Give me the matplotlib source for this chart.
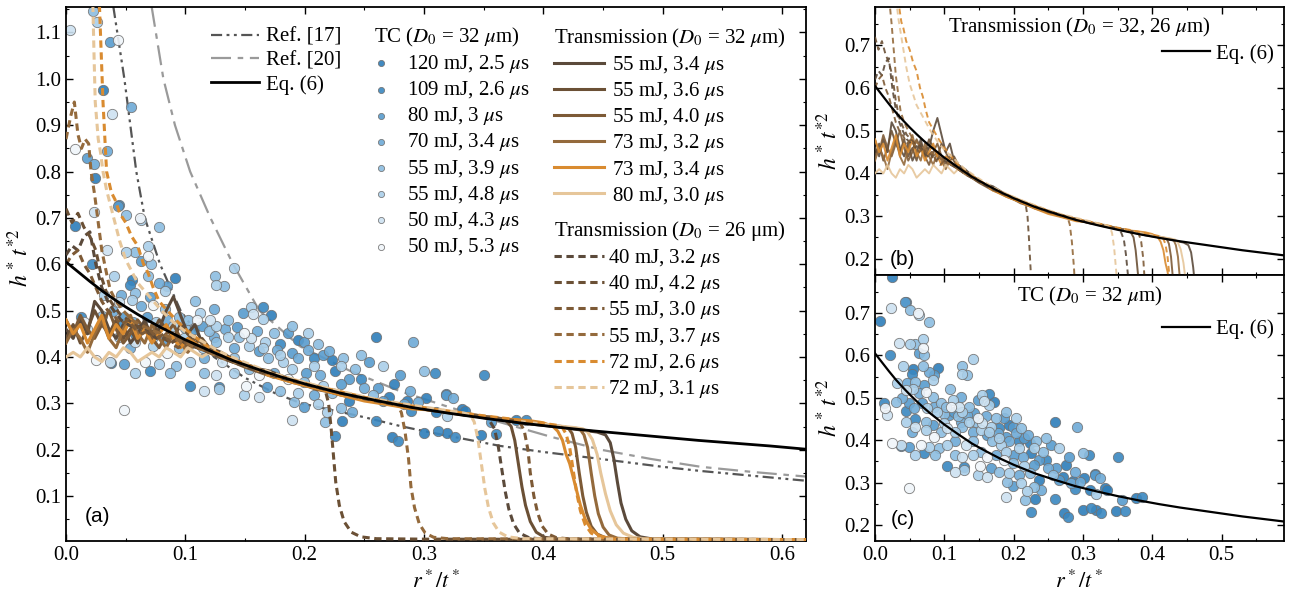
import matplotlib
matplotlib.use('Agg')
import matplotlib.pyplot as plt
from matplotlib.ticker import MultipleLocator, FormatStrFormatter

plt.rcParams['font.family'] = ['Liberation Serif', 'DejaVu Serif']
plt.rcParams['mathtext.fontset'] = 'stix'
plt.rcParams['font.size'] = 15

# ---------------- data ----------------
EQ6_X = [0, .01, .02, .03, .04, .05, .06, .07, .08, .09, .10, .12, .14, .16, .18, .20, .23, .26, .29, .32,
         .35, .38, .41, .44, .47, .50, .53, .56, .59, .62]
EQ6_Y = [.605, .584, .563, .543, .525, .508, .492, .477, .463, .45, .437, .414, .392, .374, .357, .342, .322,
         .306, .291, .279, .268, .258, .249, .241, .234, .227, .220, .214, .208, .201]

REF17_X = [.0397, .0489, .0589, .066, .0788, .096, .124, .15, .175, .197, .25, .28, .30, .364, .40, .448, .50, .532, .62]
REF17_Y = [1.155, 1.0, .80, .70, .60, .50, .40, .355, .322, .30, .27, .251, .24, .208, .195, .18, .163, .154, .133]

REF20_X = [.0718, .0816, .0913, .104, .121, .140, .162, .196, .238, .28, .322, .364, .406, .448, .49, .532, .575, .62]
REF20_Y = [1.155, 1.0, .90, .80, .70, .60, .50, .423, .37, .326, .291, .259, .228, .20, .18, .163, .152, .142]

# TC (D0 = 32 um) scatter data, (r*/t*, h* t*^2)
TC_120_25 = [(.0246, .786), (.055, .567), (.091, .571), (.172, .49), (.194, .436), (.26, .444), (.223, .393),
             (.038, .386), (.225, .369), (.275, .342), (.302, .311), (.332, .287), (.237, .306), (.231, .262),
             (.273, .227), (.30, .236), (.319, .236), (.348, .232), (.377, .263), (.31, .282), (.031, .977),
             (.0077, .682), (.334, .283), (.286, .304), (.271, .314)]
TC_109_26 = [(.022, .60), (.054, .556), (.165, .508), (.045, .469), (.179, .428), (.058, .45), (.208, .397),
             (.07, .369), (.247, .353), (.309, .365), (.35, .361), (.104, .338), (.225, .23), (.26, .262),
             (.278, .218), (.312, .241), (.326, .227), (.36, .234), (.385, .265), (.289, .284), (.0126, .487),
             (.044, .727), (.318, .32), (.128, .336)]
TC_80_30 = [(.0369, 1.079), (.018, .83), (.0436, .726), (.063, .607), (.085, .554), (.07, .53), (.148, .495),
            (.049, .487), (.068, .487), (.107, .46), (.143, .465), (.186, .452), (.083, .436), (.162, .412),
            (.189, .408), (.215, .404), (.049, .385), (.201, .365), (.237, .353), (.261, .334), (.318, .318),
            (.168, .335), (.266, .306), (.356, .259), (.199, .292), (.114, .467), (.199, .432), (.23, .342),
            (.254, .389), (.28, .361)]
TC_70_34 = [(.0341, .845), (.0237, .816), (.0545, .94), (.078, .56), (.046, .534), (.063, .511), (.039, .499),
            (.056, .475), (.085, .479), (.133, .46), (.16, .456), (.291, .432), (.141, .42), (.177, .416),
            (.203, .416), (.194, .397), (.174, .365), (.213, .361), (.25, .334), (.288, .326), (.324, .311),
            (.208, .318), (.283, .298), (.24, .282), (.124, .444), (.22, .412), (.116, .397), (.054, .42),
            (.124, .503), (.295, .302)]
TC_55_39 = [(.0229, 1.147), (.050, .707), (.078, .680), (.058, .627), (.071, .601), (.125, .574), (.132, .554),
            (.069, .574), (.058, .538), (.108, .520), (.083, .503), (.030, .489), (.095, .487), (.100, .463),
            (.120, .456), (.174, .452), (.073, .444), (.095, .420), (.126, .432), (.232, .397), (.169, .397),
            (.092, .381), (.116, .365), (.153, .373), (.300, .369), (.179, .326), (.223, .322), (.191, .302),
            (.217, .259), (.230, .290), (.102, .479), (.145, .444), (.211, .428), (.242, .373), (.199, .345),
            (.141, .397), (.087, .365), (.136, .479), (.189, .467), (.247, .405), (.257, .318)]
TC_55_48 = [(.0263, 1.123), (.063, .696), (.050, .627), (.069, .640), (.141, .592), (.126, .556), (.040, .575),
            (.032, .534), (.083, .542), (.055, .522), (.155, .507), (.075, .475), (.090, .467), (.112, .495),
            (.136, .444), (.167, .432), (.073, .424), (.115, .420), (.153, .424), (.182, .389), (.058, .365),
            (.104, .389), (.141, .365), (.189, .373), (.128, .330), (.194, .322), (.149, .318), (.211, .298),
            (.319, .272), (.219, .281), (.126, .467), (.165, .42), (.179, .405), (.23, .381), (.208, .381),
            (.215, .338), (.078, .385), (.044, .444), (.099, .44), (.165, .483), (.203, .452), (.266, .381)]
TC_50_43 = [(.0034, 1.105), (.0384, .925), (.0237, .713), (.034, .630), (.044, .519), (.157, .493),
            (.0174, .460), (.121, .479), (.058, .432), (.104, .428), (.037, .389), (.126, .361), (.116, .326),
            (.162, .314), (.189, .265), (.155, .44), (.131, .389)]
TC_50_53 = [(.0436, 1.084), (.0075, .848), (.062, .700), (.069, .618), (.073, .513), (.015, .475), (.110, .479),
            (.149, .452), (.085, .408), (.025, .393), (.066, .389), (.162, .361), (.151, .338), (.049, .286),
            (.186, .353)]

TC_SERIES = [TC_120_25, TC_109_26, TC_80_30, TC_70_34, TC_55_39, TC_55_48, TC_50_43, TC_50_53]
TC_LABELS = ['120 mJ, 2.5 $\\mu$s', '109 mJ, 2.6 $\\mu$s', '80 mJ, 3 $\\mu$s', '70 mJ, 3.4 $\\mu$s',
             '55 mJ, 3.9 $\\mu$s', '55 mJ, 4.8 $\\mu$s', '50 mJ, 4.3 $\\mu$s', '50 mJ, 5.3 $\\mu$s']
TC_COLORS = ['#2d7db9', '#3a87c0', '#589bcd', '#6eaad6', '#8cbde0', '#aacfe9', '#cde2f1', '#f0f5fa']

# Transmission (D0 = 32 um)
TR32_55_34 = [(0, .46), (.006, .44), (.012, .48), (.018, .45), (.024, .52), (.030, .50), (.036, .46), (.042, .44),
              (.048, .47), (.054, .43), (.060, .45), (.066, .48), (.072, .44), (.078, .46), (.084, .50), (.090, .53),
              (.096, .49), (.102, .45), (.108, .47), (.114, .43), (.120, .42), (.13, .41), (.15, .38), (.17, .37),
              (.19, .35), (.21, .335), (.23, .32), (.25, .31), (.27, .30), (.29, .29), (.31, .285), (.33, .278),
              (.35, .27), (.37, .262), (.39, .255), (.41, .25), (.43, .243), (.445, .238), (.452, .232),
              (.456, .215), (.459, .18), (.462, .13), (.465, .085), (.469, .05), (.474, .025), (.481, .012),
              (.492, .007), (.62, .006)]
TR32_55_36 = [(0, .44), (.006, .47), (.012, .43), (.018, .46), (.024, .50), (.030, .47), (.036, .45), (.042, .48),
              (.048, .44), (.054, .46), (.060, .43), (.066, .47), (.072, .45), (.078, .48), (.084, .46), (.090, .44),
              (.096, .47), (.102, .45), (.108, .43), (.114, .44), (.120, .42), (.13, .405), (.15, .385), (.17, .362),
              (.19, .345), (.21, .333), (.23, .318), (.25, .308), (.27, .298), (.29, .292), (.31, .283), (.33, .279),
              (.35, .272), (.362, .268), (.369, .262), (.373, .25), (.376, .22), (.379, .17), (.382, .12),
              (.385, .08), (.389, .045), (.394, .022), (.401, .011), (.412, .007), (.62, .006)]
TR32_55_40 = [(0, .48), (.006, .45), (.012, .49), (.018, .46), (.024, .44), (.030, .47), (.036, .50), (.042, .46),
              (.048, .43), (.054, .45), (.060, .48), (.066, .46), (.072, .44), (.078, .42), (.084, .45), (.090, .47),
              (.096, .44), (.102, .42), (.108, .44), (.114, .43), (.120, .41), (.13, .40), (.15, .378), (.17, .36),
              (.19, .348), (.21, .33), (.23, .32), (.25, .307), (.27, .302), (.29, .29), (.31, .284), (.33, .276),
              (.35, .27), (.37, .263), (.39, .256), (.41, .252), (.418, .249), (.421, .246), (.424, .235),
              (.427, .205), (.430, .15), (.433, .10), (.436, .065), (.440, .035), (.445, .018), (.452, .01),
              (.465, .007), (.62, .006)]
TR32_73_32 = [(0, .43), (.006, .46), (.012, .44), (.018, .41), (.024, .45), (.030, .48), (.036, .44), (.042, .42),
              (.048, .46), (.054, .49), (.060, .45), (.066, .43), (.072, .47), (.078, .44), (.084, .42), (.090, .45),
              (.096, .43), (.102, .41), (.108, .43), (.114, .42), (.120, .41), (.13, .398), (.15, .38), (.17, .366),
              (.19, .35), (.21, .334), (.23, .323), (.25, .31), (.27, .30), (.29, .293), (.31, .285), (.33, .277),
              (.35, .27), (.37, .262), (.39, .257), (.41, .25), (.428, .246), (.431, .243), (.434, .232),
              (.437, .205), (.440, .15), (.443, .10), (.446, .062), (.450, .033), (.455, .016), (.462, .009),
              (.475, .007), (.62, .006)]
TR32_73_34 = [(0, .48), (.006, .45), (.012, .47), (.018, .43), (.024, .46), (.030, .49), (.036, .44), (.042, .47),
              (.048, .45), (.054, .48), (.060, .44), (.066, .46), (.072, .43), (.078, .45), (.084, .47), (.090, .44),
              (.096, .42), (.102, .44), (.108, .43), (.114, .42), (.120, .41), (.13, .40), (.15, .385), (.17, .36),
              (.19, .345), (.21, .332), (.23, .318), (.25, .305), (.27, .297), (.29, .288), (.31, .285), (.33, .279),
              (.35, .271), (.37, .266), (.39, .262), (.40, .258), (.408, .25), (.412, .24), (.416, .22),
              (.419, .19), (.422, .17), (.425, .14), (.428, .11), (.431, .08), (.435, .05), (.44, .028),
              (.447, .014), (.455, .009), (.47, .007), (.62, .006)]
TR32_80_30 = [(0, .40), (.006, .41), (.012, .40), (.018, .42), (.024, .40), (.030, .39), (.036, .41), (.042, .40),
              (.048, .42), (.054, .41), (.060, .39), (.066, .40), (.072, .41), (.078, .40), (.084, .42), (.090, .41),
              (.096, .40), (.102, .42), (.108, .41), (.114, .40), (.120, .41), (.13, .40), (.15, .382), (.17, .365),
              (.19, .352), (.21, .338), (.23, .325), (.25, .313), (.27, .303), (.29, .294), (.31, .286), (.33, .28),
              (.35, .272), (.37, .264), (.39, .258), (.41, .252), (.425, .248), (.433, .245), (.437, .238),
              (.441, .222), (.445, .19), (.448, .15), (.452, .105), (.456, .068), (.461, .038), (.467, .02),
              (.475, .011), (.487, .007), (.62, .006)]

# Transmission (D0 = 26 um)
TR26_40_32 = [(0, .62), (.005, .64), (.01, .63), (.015, .66), (.02, .67), (.025, .60), (.03, .55), (.035, .52),
              (.04, .50), (.046, .48), (.052, .47), (.058, .46), (.064, .47), (.07, .45), (.076, .44), (.082, .45),
              (.088, .43), (.094, .44), (.10, .43), (.11, .42), (.12, .41), (.13, .40), (.15, .38), (.17, .362),
              (.19, .348), (.21, .335), (.23, .322), (.25, .31), (.27, .30), (.29, .292), (.31, .285), (.33, .278),
              (.345, .272), (.352, .268), (.355, .262), (.359, .245), (.362, .21), (.365, .16), (.368, .11),
              (.371, .072), (.375, .04), (.380, .02), (.388, .01), (.40, .007), (.62, .006)]
TR26_40_42 = [(0, .72), (.005, .69), (.01, .71), (.015, .68), (.02, .66), (.025, .63), (.03, .57), (.035, .53),
              (.04, .51), (.046, .49), (.052, .48), (.058, .47), (.064, .46), (.07, .45), (.076, .46), (.082, .44),
              (.088, .43), (.094, .44), (.10, .43), (.11, .42), (.12, .41), (.13, .398), (.15, .38), (.17, .365),
              (.19, .35), (.205, .338), (.212, .334), (.217, .33), (.22, .30), (.222, .25), (.224, .19),
              (.226, .13), (.229, .08), (.233, .045), (.239, .022), (.247, .012), (.26, .008), (.30, .007),
              (.62, .006)]
TR26_55_30 = [(0, .60), (.005, .62), (.01, .63), (.015, .60), (.02, .58), (.025, .55), (.03, .52), (.035, .50),
              (.04, .49), (.046, .47), (.052, .48), (.058, .46), (.064, .45), (.07, .46), (.076, .44), (.082, .45),
              (.088, .43), (.094, .42), (.10, .43), (.11, .42), (.12, .41), (.13, .40), (.15, .383), (.17, .364),
              (.19, .35), (.21, .335), (.23, .323), (.25, .312), (.27, .302), (.29, .294), (.31, .286), (.33, .279),
              (.35, .272), (.37, .265), (.378, .262), (.381, .256), (.384, .24), (.387, .20), (.389, .15),
              (.392, .10), (.395, .065), (.399, .035), (.404, .018), (.411, .01), (.425, .007), (.62, .006)]
TR26_55_37 = [(0, .87), (.004, .92), (.007, .95), (.01, .88), (.013, .85), (.016, .87), (.019, .86), (.021, .80),
              (.024, .75), (.027, .69), (.030, .63), (.034, .58), (.037, .545), (.042, .52), (.048, .50), (.055, .48),
              (.062, .47), (.07, .46), (.08, .45), (.09, .44), (.10, .43), (.11, .42), (.12, .41), (.13, .40),
              (.15, .382), (.17, .366), (.19, .35), (.21, .336), (.23, .322), (.25, .312), (.265, .305), (.275, .30),
              (.278, .296), (.281, .28), (.284, .24), (.287, .18), (.289, .12), (.292, .075), (.296, .04),
              (.301, .02), (.308, .011), (.32, .008), (.62, .006)]
TR26_72_26 = [(.028, 1.16), (.031, .95), (.034, .80), (.038, .755), (.041, .74), (.045, .71), (.05, .69),
              (.055, .66), (.06, .64), (.065, .60), (.069, .58), (.073, .55), (.078, .52), (.085, .50), (.092, .48),
              (.10, .46), (.11, .44), (.12, .42), (.13, .405), (.15, .385), (.17, .365), (.19, .35), (.21, .336),
              (.23, .325), (.25, .313), (.27, .302), (.29, .294), (.31, .287), (.33, .28), (.35, .273), (.37, .267),
              (.39, .26), (.405, .255), (.413, .252), (.416, .247), (.419, .234), (.422, .205), (.425, .155),
              (.428, .105), (.431, .068), (.435, .038), (.44, .02), (.447, .011), (.46, .007), (.62, .006)]
TR26_72_31 = [(.0225, 1.16), (.0235, 1.05), (.0245, .95), (.027, .87), (.029, .84), (.031, .80), (.034, .76),
              (.037, .73), (.041, .69), (.045, .65), (.05, .61), (.055, .585), (.06, .56), (.065, .545), (.07, .53),
              (.08, .50), (.09, .475), (.10, .455), (.11, .44), (.12, .425), (.13, .41), (.15, .388), (.17, .368),
              (.19, .352), (.21, .338), (.23, .326), (.25, .314), (.27, .304), (.29, .296), (.31, .288),
              (.325, .282), (.335, .278), (.339, .274), (.342, .26), (.345, .225), (.348, .17), (.351, .115),
              (.354, .075), (.358, .042), (.363, .022), (.37, .012), (.383, .008), (.62, .006)]

TR32_SERIES = [TR32_55_34, TR32_55_36, TR32_55_40, TR32_73_32, TR32_73_34, TR32_80_30]
TR32_LABELS = ['55 mJ, 3.4 $\\mu$s', '55 mJ, 3.6 $\\mu$s', '55 mJ, 4.0 $\\mu$s',
               '73 mJ, 3.2 $\\mu$s', '73 mJ, 3.4 $\\mu$s', '80 mJ, 3.0 $\\mu$s']
TR26_SERIES = [TR26_40_32, TR26_40_42, TR26_55_30, TR26_55_37, TR26_72_26, TR26_72_31]
TR26_LABELS = ['40 mJ, 3.2 $\\mu$s', '40 mJ, 4.2 $\\mu$s', '55 mJ, 3.0 $\\mu$s',
               '55 mJ, 3.7 $\\mu$s', '72 mJ, 2.6 $\\mu$s', '72 mJ, 3.1 $\\mu$s']
TR_COLORS = ['#5b4a3b', '#6b5035', '#7d5a36', '#946a3c', '#d98b30', '#e6c69a']

DASH = (0, (2.4, 1.5))

# ---------------- figure ----------------
W, H = 1289, 600
fig = plt.figure(figsize=(W / 100, H / 100), dpi=100)
axA = fig.add_axes([66 / W, 59 / H, 740 / W, 534 / H])
axB = fig.add_axes([875 / W, 325 / H, 409 / W, 268 / H])
axC = fig.add_axes([875 / W, 59 / H, 409 / W, 266 / H])


def style(ax):
    ax.tick_params(which='both', direction='in', top=True, right=True, labelsize=15)
    ax.tick_params(which='major', length=5, width=1.0)
    ax.tick_params(which='minor', length=2.5, width=0.8)
    for s in ax.spines.values():
        s.set_linewidth(1.3)
    ax.xaxis.set_major_formatter(FormatStrFormatter('%.1f'))
    ax.yaxis.set_major_formatter(FormatStrFormatter('%.1f'))


def xy(pts):
    return [p[0] for p in pts], [p[1] for p in pts]


# ---- panel (a)
r17, = axA.plot(REF17_X, REF17_Y, color='#555555', lw=1.6, ls=(0, (5, 2, 1.3, 2, 1.3, 2)),
                label='Ref. [17]', zorder=1)
r20, = axA.plot(REF20_X, REF20_Y, color='#9a9a9a', lw=1.6, ls=(0, (9, 3, 2.5, 3)),
                label='Ref. [20]', zorder=1)
tc_handles = []
for pts, lab, col in zip(TC_SERIES, TC_LABELS, TC_COLORS):
    x, y = xy(pts)
    h = axA.scatter(x, y, s=55, c=col, edgecolors='#707070', linewidths=0.6, alpha=0.9,
                    label=lab, zorder=2)
    tc_handles.append(h)
tr32_handles = []
for pts, lab, col in zip(TR32_SERIES, TR32_LABELS, TR_COLORS):
    x, y = xy(pts)
    h, = axA.plot(x, y, color=col, lw=2.2, label=lab, zorder=3)
    tr32_handles.append(h)
tr26_handles = []
for pts, lab, col in zip(TR26_SERIES, TR26_LABELS, TR_COLORS):
    x, y = xy(pts)
    h, = axA.plot(x, y, color=col, lw=2.2, ls=DASH, label=lab, zorder=3)
    tr26_handles.append(h)
eqa, = axA.plot(EQ6_X, EQ6_Y, color='black', lw=2.0, label='Eq. (6)', zorder=5)

axA.set_xlim(0, 0.62)
axA.set_ylim(0.003, 1.155)
axA.xaxis.set_major_locator(MultipleLocator(0.1))
axA.xaxis.set_minor_locator(MultipleLocator(0.05))
axA.yaxis.set_major_locator(MultipleLocator(0.1))
axA.yaxis.set_minor_locator(MultipleLocator(0.05))
style(axA)
axA.set_xlabel('$r^*/t^*$', fontsize=16)
axA.set_ylabel('$h^*\\,t^{*2}$', fontsize=17, labelpad=1, y=0.53)
axA.text(0.042, 0.045, '(a)', transform=axA.transAxes, ha='center', va='center',
         fontsize=15, family=['Liberation Sans', 'DejaVu Sans'])

common = dict(loc='upper left', frameon=False, borderpad=0, borderaxespad=0, fontsize=15,
              labelspacing=0.2, title_fontsize=15)
leg1 = axA.legend(handles=[r17, r20, eqa], bbox_to_anchor=(0.196, 0.962), handlelength=2.3,
                  handletextpad=0.35, **common)
axA.add_artist(leg1)
leg2 = axA.legend(handles=tc_handles, title='TC ($D_0$ = 32 $\\mu$m)', alignment='left',
                  bbox_to_anchor=(0.416, 0.965), handlelength=0.7, handletextpad=0.9,
                  markerscale=0.6, scatterpoints=1, **common)
axA.add_artist(leg2)
leg3 = axA.legend(handles=tr32_handles, title='Transmission ($D_0$ = 32 $\\mu$m)', alignment='left',
                  bbox_to_anchor=(0.659, 0.963), handlelength=2.4, handletextpad=0.4, **common)
axA.add_artist(leg3)
leg4 = axA.legend(handles=tr26_handles, title='Transmission ($D_0$ = 26 μm)', alignment='left',
                  bbox_to_anchor=(0.659, 0.603), handlelength=2.4, handletextpad=0.2, **common)

# ---- panel (b)
for pts, col in zip(TR32_SERIES, TR_COLORS):
    x, y = xy(pts)
    axB.plot(x, y, color=col, lw=1.4, alpha=0.9, zorder=3)
for pts, col in zip(TR26_SERIES, TR_COLORS):
    x, y = xy(pts)
    axB.plot(x, y, color=col, lw=1.4, alpha=0.9, ls=(0, (3, 2)), zorder=3)
eqb, = axB.plot(EQ6_X, EQ6_Y, color='black', lw=1.6, label='Eq. (6)', zorder=5)
axB.set_xlim(0, 0.59)
axB.set_ylim(0.162, 0.79)
axB.xaxis.set_major_locator(MultipleLocator(0.1))
axB.xaxis.set_minor_locator(MultipleLocator(0.05))
axB.yaxis.set_major_locator(MultipleLocator(0.1))
axB.yaxis.set_minor_locator(MultipleLocator(0.05))
style(axB)
axB.tick_params(labelbottom=False)
axB.set_ylabel('$h^*\\,t^{*2}$', fontsize=17, labelpad=1)
axB.text(0.5, 0.924, 'Transmission ($D_0$ = 32, 26 $\\mu$m)', transform=axB.transAxes,
         ha='center', va='center', fontsize=15)
axB.text(0.068, 0.058, '(b)', transform=axB.transAxes, ha='center', va='center',
         fontsize=15, family=['Liberation Sans', 'DejaVu Sans'])
axB.legend(handles=[eqb], loc='upper right', bbox_to_anchor=(0.975, 0.862), frameon=False,
           borderpad=0, borderaxespad=0, fontsize=15, handlelength=2.3, handletextpad=0.3)

# ---- panel (c)
for pts, col in zip(TC_SERIES, TC_COLORS):
    x, y = xy(pts)
    axC.scatter(x, y, s=55, c=col, edgecolors='#707070', linewidths=0.6, alpha=0.9, zorder=2)
eqc, = axC.plot(EQ6_X, EQ6_Y, color='black', lw=1.6, label='Eq. (6)', zorder=5)
axC.set_xlim(0, 0.59)
axC.set_ylim(0.162, 0.79)
axC.xaxis.set_major_locator(MultipleLocator(0.1))
axC.xaxis.set_minor_locator(MultipleLocator(0.05))
axC.yaxis.set_major_locator(MultipleLocator(0.1))
axC.yaxis.set_minor_locator(MultipleLocator(0.05))
style(axC)
axC.set_xlabel('$r^*/t^*$', fontsize=16)
axC.set_ylabel('$h^*\\,t^{*2}$', fontsize=17, labelpad=1)
axC.text(0.525, 0.918, 'TC ($D_0$ = 32 $\\mu$m)', transform=axC.transAxes,
         ha='center', va='center', fontsize=15)
axC.text(0.068, 0.08, '(c)', transform=axC.transAxes, ha='center', va='center',
         fontsize=15, family=['Liberation Sans', 'DejaVu Sans'])
axC.legend(handles=[eqc], loc='upper right', bbox_to_anchor=(0.975, 0.832), frameon=False,
           borderpad=0, borderaxespad=0, fontsize=15, handlelength=2.3, handletextpad=0.3)

fig.savefig('out.png', dpi=100)
